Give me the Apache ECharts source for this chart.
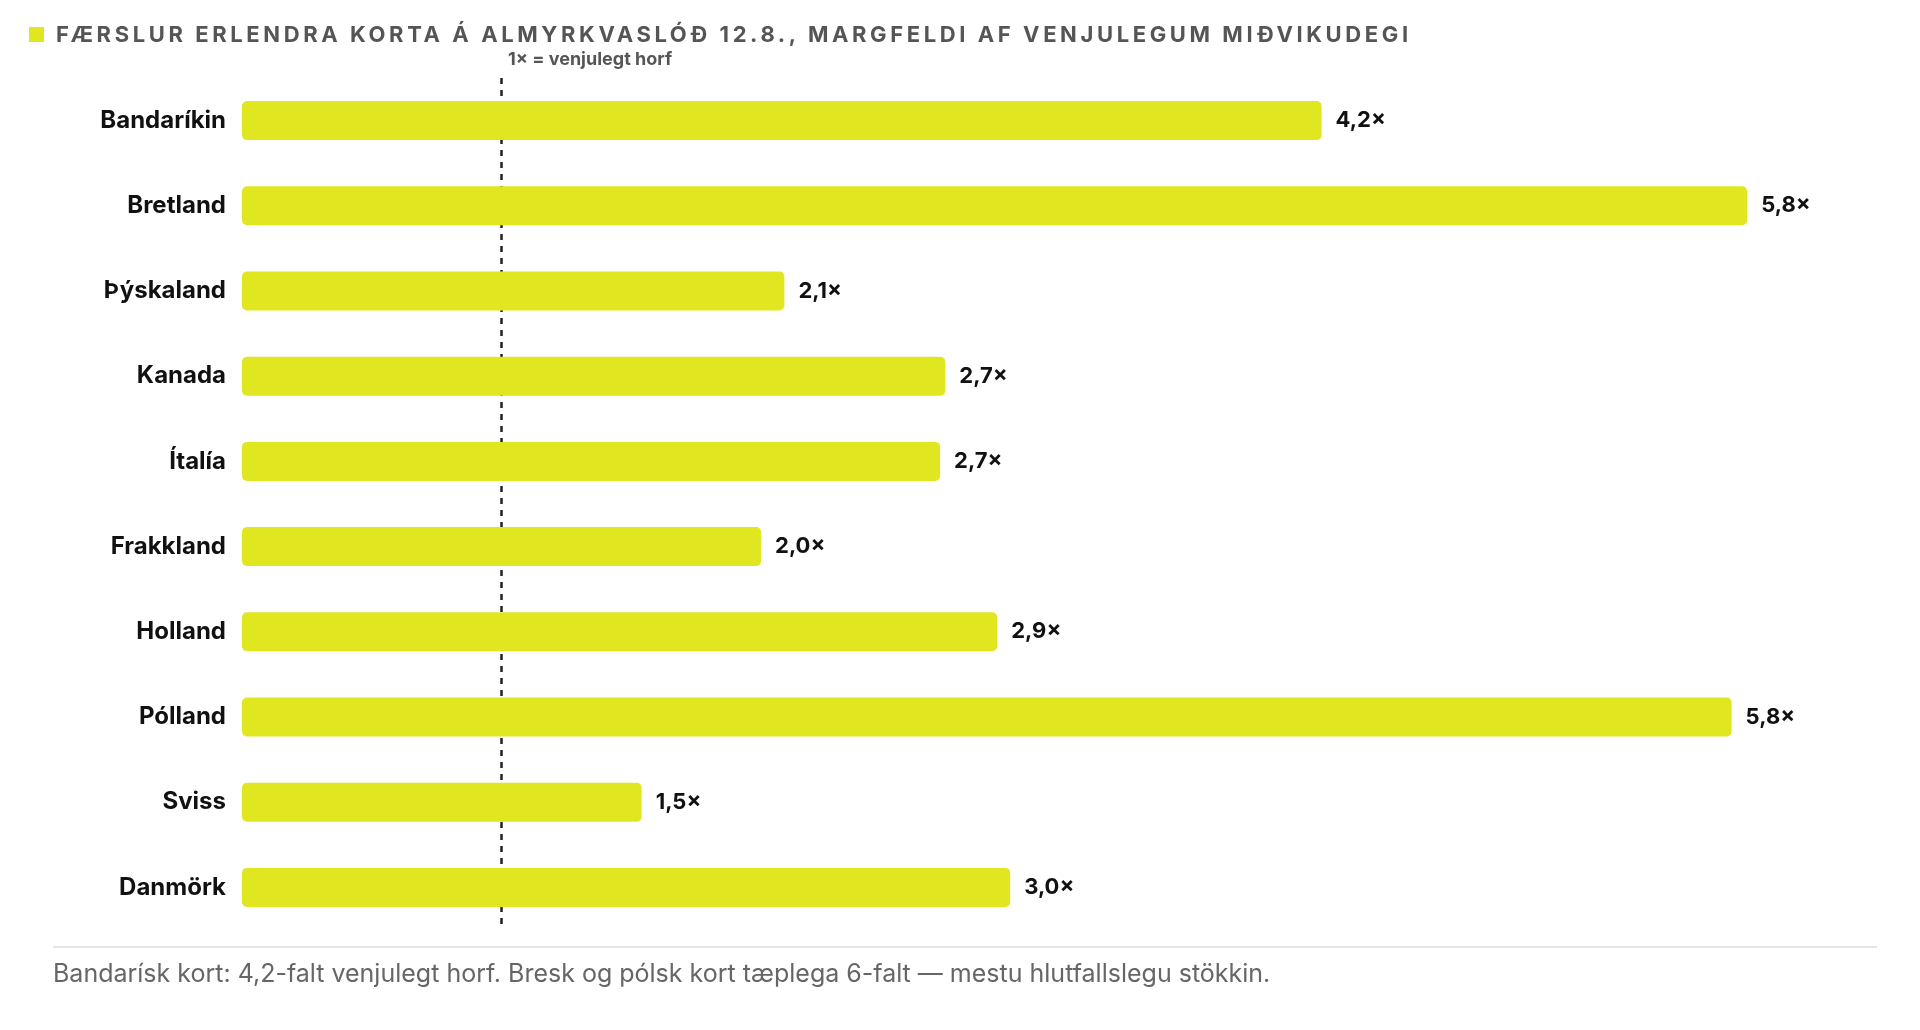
<!DOCTYPE html>
<html lang="is">
<head>
<meta charset="UTF-8">
<script src="https://cdn.jsdelivr.net/npm/echarts@6/dist/echarts.min.js"></script>
<style>
  html, body { margin: 0; padding: 0; background: #fff; }
  #wrap { position: relative; width: 1920px; height: 1030px; }
  #chart { width: 1920px; height: 1030px; }
  #title { position: absolute; left: 56px; top: 21px; font: bold 22px Inter, "Noto Sans", sans-serif;
           color: #555; letter-spacing: 3.6px; white-space: nowrap; }
</style>
</head>
<body>
<div id="wrap">
<div id="chart"></div>
<div id="title">FÆRSLUR ERLENDRA KORTA Á ALMYRKVASLÓÐ 12.8., MARGFELDI AF VENJULEGUM MIÐVIKUDEGI</div>
</div>
<script>
// gögn
var countries = ['Bandaríkin', 'Bretland', 'Þýskaland', 'Kanada', 'Ítalía', 'Frakkland', 'Holland', 'Pólland', 'Sviss', 'Danmörk'];
var multiples = [4.16, 5.8, 2.09, 2.71, 2.69, 2.0, 2.91, 5.74, 1.54, 2.96];
var shownLabels = ['4,2×', '5,8×', '2,1×', '2,7×', '2,7×', '2,0×', '2,9×', '5,8×', '1,5×', '3,0×'];
var baseline = 1;

var font = 'Inter, "Noto Sans", sans-serif';
var chart = echarts.init(document.getElementById('chart'));

chart.setOption({
    animation: false,
    grid: { left: 242, right: 69, top: 78, bottom: 100 },
    xAxis: {
        type: 'value', min: 0, max: 6.2, show: false
    },
    yAxis: {
        type: 'category', inverse: true, data: countries,
        axisLine: { show: false }, axisTick: { show: false },
        axisLabel: { color: '#111', fontFamily: font, fontWeight: 'bold', fontSize: 24, margin: 16 }
    },
    series: [{
        type: 'bar',
        data: multiples,
        barWidth: 39,
        itemStyle: { color: '#e0e620', borderRadius: 5 },
        label: {
            show: true, position: 'right', distance: 14,
            color: '#111', fontFamily: font, fontWeight: 'bold', fontSize: 22,
            formatter: function (p) { return shownLabels[p.dataIndex]; }
        },
        markLine: {
            symbol: 'none', silent: true, z: 1, zlevel: 0,
            lineStyle: { color: '#222', type: [6, 6], width: 2.5 },
            label: { show: false },
            data: [{ xAxis: baseline }]
        }
    }],
    graphic: [
        { type: 'rect', left: 29, top: 27, shape: { width: 15, height: 15 }, style: { fill: '#e0e620' } },
        { type: 'text', left: 508, top: 51, style: {
            text: '1× = venjulegt horf', fill: '#555', font: 'bold 18px ' + font } },
        { type: 'line', shape: { x1: 53, y1: 947, x2: 1877, y2: 947 }, style: { stroke: '#ddd', lineWidth: 1.5 } },
        { type: 'text', left: 53, top: 962, style: {
            text: 'Bandarísk kort: 4,2-falt venjulegt horf. Bresk og pólsk kort tæplega 6-falt — mestu hlutfallslegu stökkin.',
            fill: '#666', font: '25px ' + font } }
    ]
});
</script>
</body>
</html>
